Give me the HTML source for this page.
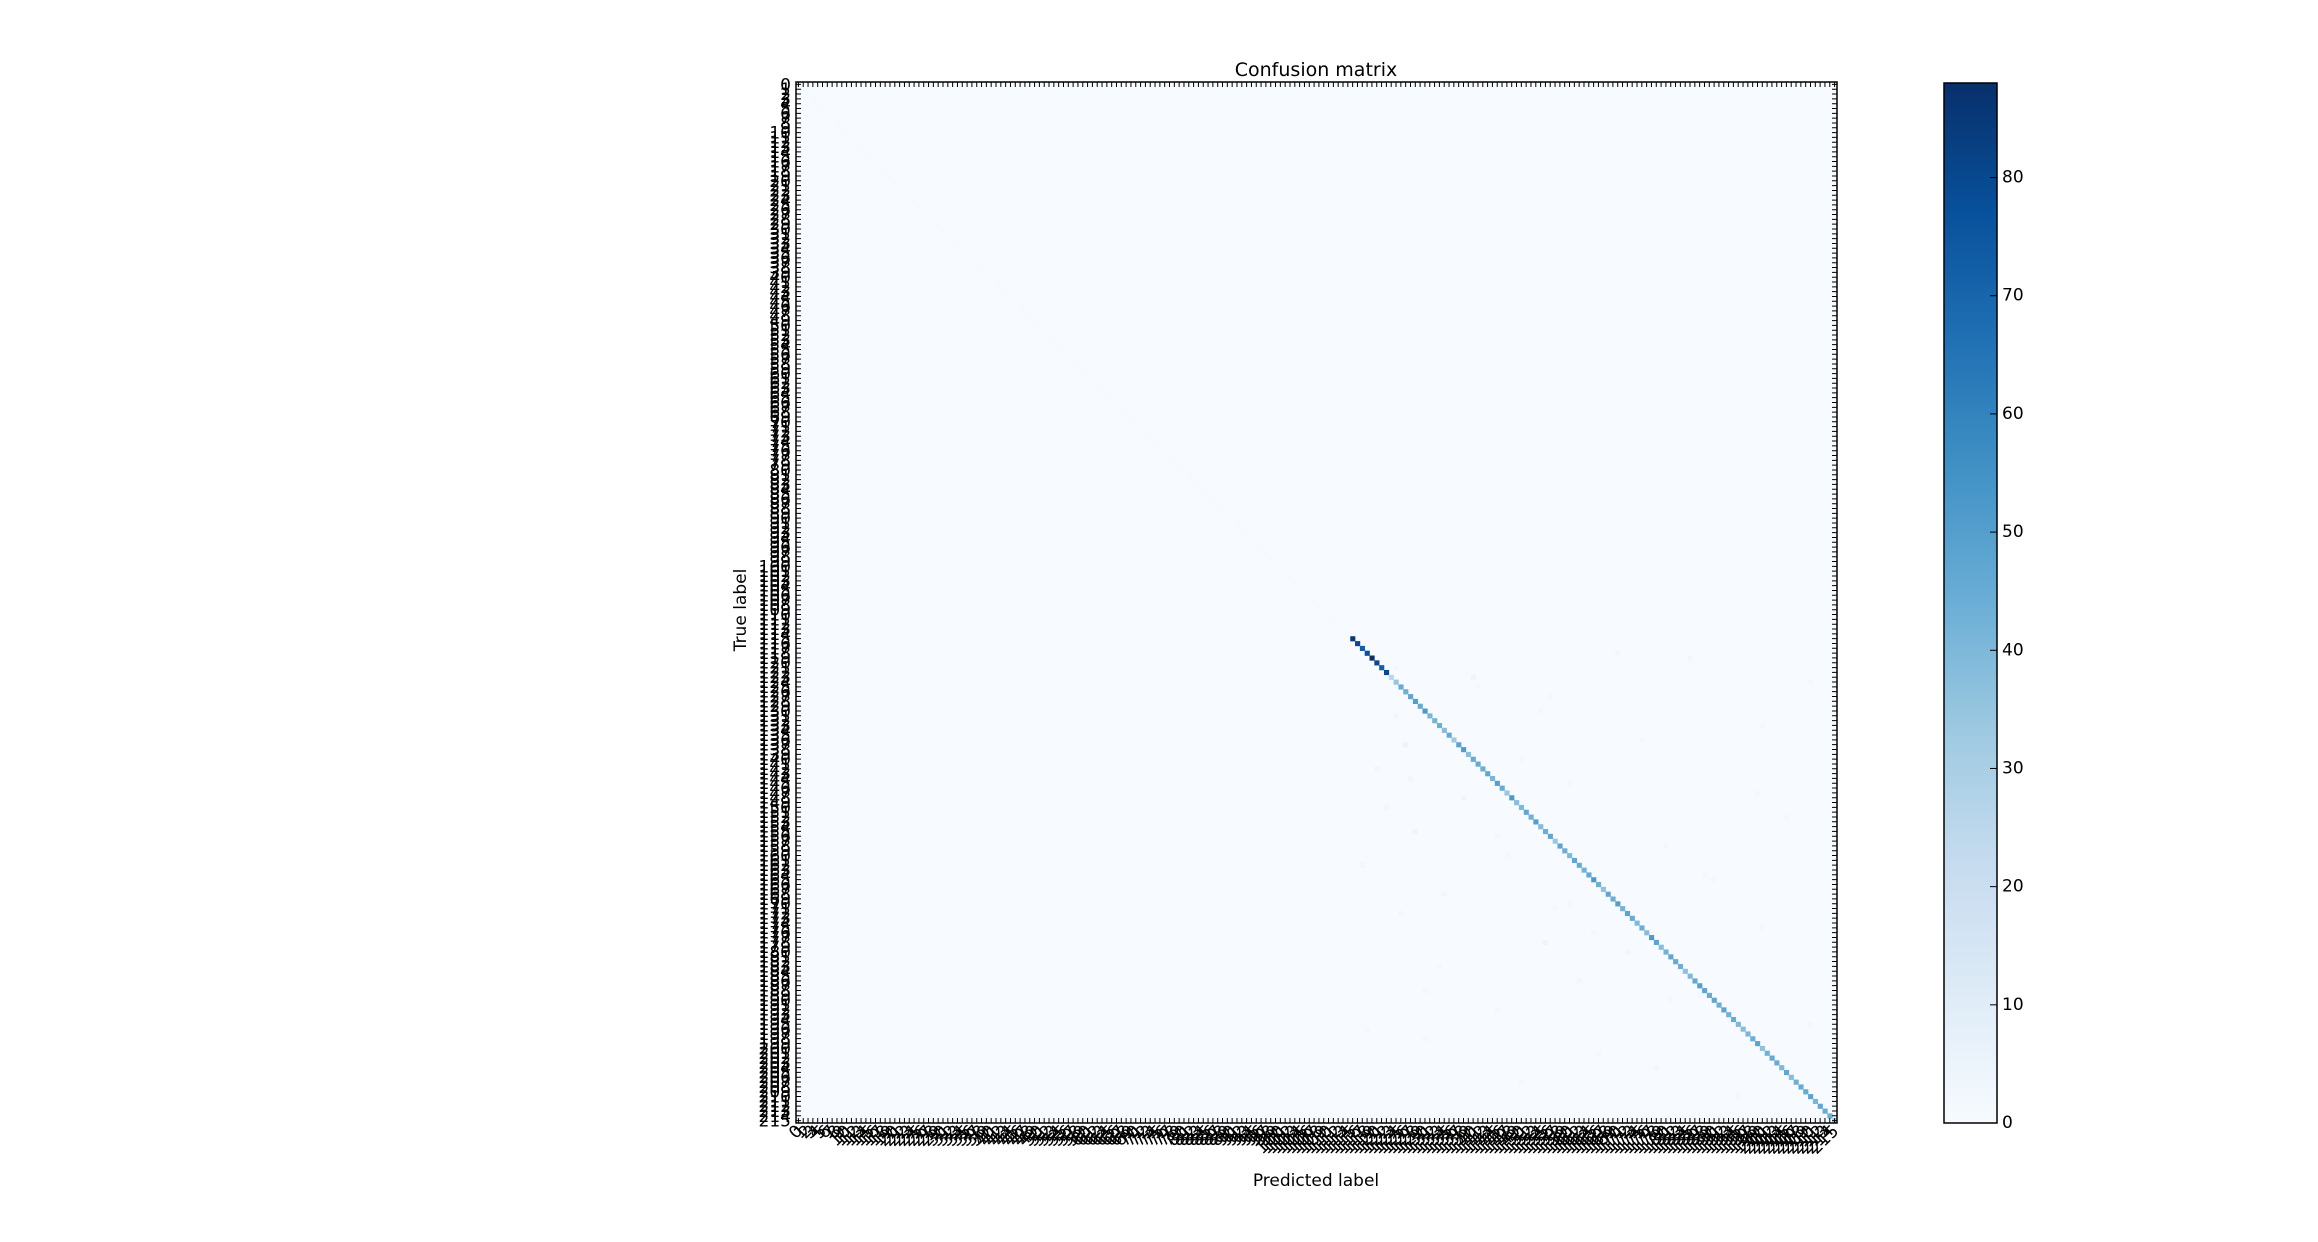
<!DOCTYPE html>
<html><head><meta charset="utf-8"><style>
html,body{margin:0;padding:0;background:#fff;}
svg{display:block;font-family:"DejaVu Sans","Liberation Sans",sans-serif;}
</style></head><body>
<svg id="chart" width="2318" height="1242" xmlns="http://www.w3.org/2000/svg">
<rect width="2318" height="1242" fill="#fff"/>
<text x="1316" y="76" font-size="19" text-anchor="middle">Confusion matrix</text>
<text x="0" y="0" font-size="17" text-anchor="middle" transform="translate(746,610) rotate(-90)">True label</text>
<text x="1316" y="1186" font-size="17" text-anchor="middle">Predicted label</text>
<g id="cells"></g>
<g id="ticks"></g>
<g id="ylabels"></g>
<g id="xlabels"></g>
<rect x="796" y="82" width="1041" height="1041" fill="none" stroke="#000" stroke-width="1.5"/>
<defs><linearGradient id="cbgrad" x1="0" y1="1" x2="0" y2="0">
<stop offset="0" stop-color="#f7fbff"/><stop offset="0.125" stop-color="#deebf7"/><stop offset="0.25" stop-color="#c6dbef"/><stop offset="0.375" stop-color="#9ecae1"/><stop offset="0.5" stop-color="#6baed6"/><stop offset="0.625" stop-color="#4292c6"/><stop offset="0.75" stop-color="#2171b5"/><stop offset="0.875" stop-color="#08519c"/><stop offset="1" stop-color="#08306b"/>
</linearGradient></defs>
<rect x="1944" y="83" width="53" height="1040" fill="url(#cbgrad)" stroke="#000" stroke-width="1.5"/>
<g id="cbticks"></g>
</svg>
<script>
const numClasses = 216;
const diagStart = 115;
const diagValues = [85,80,72,78,88,80,72,80,25,35,45,44,47,50,45,52,41,42,44,38,46,33,48,51,37,45,45,44,47,41,50,45,34,52,38,40,47,43,50,39,44,47,34,48,44,40,47,45,43,46,52,44,36,47,44,50,42,48,45,40,44,38,52,48,38,43,47,46,44,36,40,46,50,47,45,47,44,48,43,45,40,38,41,44,48,36,43,46,45,40,47,38,44,45,46,48,41,47,45,44,30];
const earlyDiagValue = [1];
const noiseRows = [118,119,121,123,124,127,131,133,137,140,142,145,148,150,152,155,158,160,162,165,168,170,172,175,178,180,183,186,189,192,195,198,201,204,207,210,130,136,144,156,164,176,188,196,125,147,171,190];
const noiseCols = [170,185,124,140,210,156,124,200,126,150,120,160,138,122,205,128,180,147,117,190,134,160,125,200,155,172,133,162,187,145,210,130,166,178,150,195,154,175,127,145,188,165,130,118,141,199,157,181];
const noiseVals = [3,3,2,4,3,2,3,2,5,2,3,2,4,3,2,4,3,2,3,2,3,2,3,2,4,3,2,3,2,3,2,3,2,3,2,2,2,2,3,2,2,2,3,2,2,2,2,2];
const cbTicks = [0,10,20,30,40,50,60,70,80];
const vmax = 88;

const NS='http://www.w3.org/2000/svg';
const X0=796, Y0=82, S=1041;
const cell=S/numClasses;
const xPos=i=>X0+i*cell, yPos=i=>Y0+i*cell;
const stops=[[247,251,255],[222,235,247],[198,219,239],[158,202,225],[107,174,214],[66,146,198],[33,113,181],[8,81,156],[8,48,107]];
function color(v){let t=Math.max(0,Math.min(1,v/vmax))*8;let i=Math.min(7,Math.floor(t)),f=t-i;
 const a=stops[i],b=stops[i+1];return 'rgb('+a.map((c,k)=>Math.round(c+(b[k]-c)*f)).join(',')+')';}
const M=[];for(let r=0;r<numClasses;r++){M.push(new Array(numClasses).fill(0));}
for(let i=0;i<diagStart;i++)M[i][i]=earlyDiagValue[0];
diagValues.forEach((v,k)=>{if(diagStart+k<numClasses)M[diagStart+k][diagStart+k]=v;});
noiseRows.forEach((r,k)=>{M[r][noiseCols[k]]=noiseVals[k];});
const cg=document.getElementById('cells');
const bg=document.createElementNS(NS,'rect');
bg.setAttribute('x',X0);bg.setAttribute('y',Y0);bg.setAttribute('width',S);bg.setAttribute('height',S);bg.setAttribute('fill',color(0));


cg.appendChild(bg);
for(let r=0;r<numClasses;r++)for(let c=0;c<numClasses;c++){const v=M[r][c];if(!v)continue;
 const el=document.createElementNS(NS,'rect');
 el.setAttribute('x',xPos(c));el.setAttribute('y',yPos(r));el.setAttribute('width',cell+0.3);el.setAttribute('height',cell+0.3);el.setAttribute('fill',color(v));
 
 
 cg.appendChild(el);}
const tg=document.getElementById('ticks');let d='';
for(let i=0;i<numClasses;i++){const x=xPos(i)+cell/2,y=yPos(i)+cell/2;
 d+=`M${x},${Y0+S}v-5M${x},${Y0}v5M${X0},${y}h5M${X0+S},${y}h-5`;}
const tp=document.createElementNS(NS,'path');tp.setAttribute('d',d);tp.setAttribute('stroke','#000');tp.setAttribute('stroke-width','1');


tg.appendChild(tp);
const yl=document.getElementById('ylabels'),xl=document.getElementById('xlabels');
for(let i=0;i<numClasses;i++){
 const t=document.createElementNS(NS,'text');t.setAttribute('x',791);t.setAttribute('y',yPos(i)+cell/2+6);t.setAttribute('font-size','17');t.setAttribute('text-anchor','end');t.textContent=i;
 
 
 yl.appendChild(t);
 const u=document.createElementNS(NS,'text');const x=xPos(i)+cell/2+5,y=Y0+S+9;
 u.setAttribute('transform',`translate(${x},${y}) rotate(-45)`);u.setAttribute('font-size','17');u.setAttribute('text-anchor','end');u.setAttribute('x',0);u.setAttribute('y',0);u.textContent=i;
 
 
 xl.appendChild(u);}
const cb=document.getElementById('cbticks');
cbTicks.forEach(v=>{const y=1123-(v/vmax)*1040;
 const l=document.createElementNS(NS,'line');l.setAttribute('x1',1990);l.setAttribute('x2',1997);l.setAttribute('y1',y);l.setAttribute('y2',y);l.setAttribute('stroke','#000');
 
 
 cb.appendChild(l);
 const t=document.createElementNS(NS,'text');t.setAttribute('x',2002);t.setAttribute('y',y+5);t.setAttribute('font-size','17');t.textContent=v;
 
 
 cb.appendChild(t);});
</script>
</body></html>
